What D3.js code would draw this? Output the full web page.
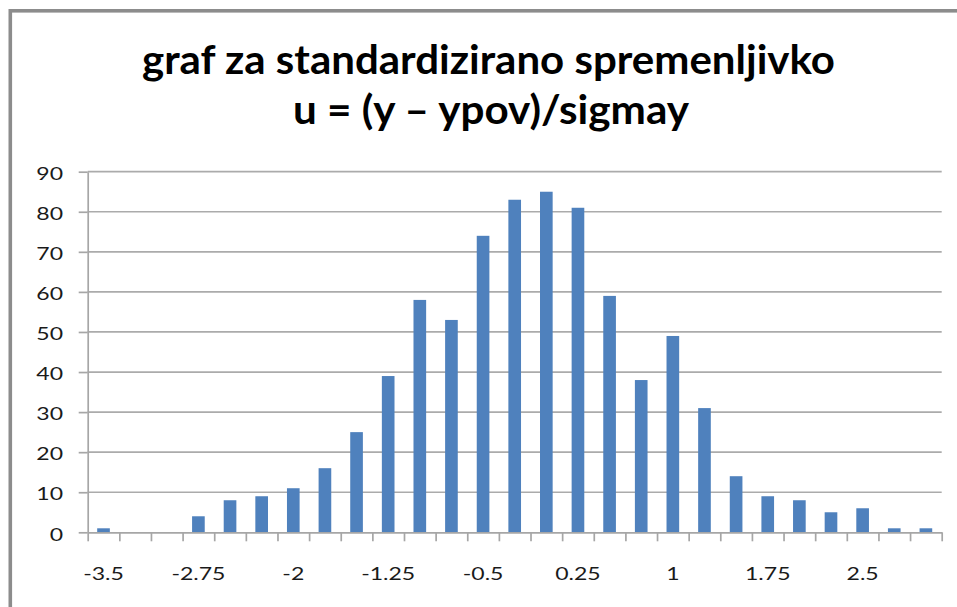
<!DOCTYPE html>
<html><head><meta charset="utf-8">
<script src="https://cdn.jsdelivr.net/npm/d3@7"></script>
<style>body{margin:0;background:#fff} svg{display:block}</style>
</head><body>
<svg id="c" width="957" height="607"></svg>
<script>
const categories = [-3.5,-3.25,-3,-2.75,-2.5,-2.25,-2,-1.75,-1.5,-1.25,-1,-0.75,-0.5,-0.25,0,0.25,0.5,0.75,1,1.25,1.5,1.75,2,2.25,2.5,2.75,3];
const values = [1,0,0,4,8,9,11,16,25,39,58,53,74,83,85,81,59,38,49,31,14,9,8,5,6,1,1];
const xTickLabels = [-3.5,-2.75,-2,-1.25,-0.5,0.25,1,1.75,2.5];
const yTicks = [0,10,20,30,40,50,60,70,80,90];
const titleLines = ["graf za standardizirano spremenljivko", "u = (y – ypov)/sigmay"];

const W = 957, H = 607;
const L = 87.7, R = 941.7, T = 171.7, B = 532.3;
const FONT = "Lato, 'Open Sans', sans-serif";
const LABEL_SIZE = 18, LABEL_SX = 1.28;
const svg = d3.select("#c");

// frame
svg.append("rect").attr("x", 10.3).attr("y", 10.8).attr("width", 1100).attr("height", 800)
  .attr("fill", "none").attr("stroke", "#8c8c8c").attr("stroke-width", 3.6);

// title
const titleY = [74.3, 123.5], titleW = [693, 396], titleX = [488.5, 491];
titleLines.forEach((t, i) => {
  svg.append("text").attr("x", titleX[i]).attr("y", titleY[i])
    .attr("text-anchor", "middle").attr("font-family", FONT).attr("font-weight", "bold")
    .attr("font-size", 41).attr("fill", "#000")
    .attr("textLength", titleW[i]).attr("lengthAdjust", "spacingAndGlyphs")
    .text(t);
});

const x = d3.scaleBand().domain(categories).range([L, R]).paddingInner(0.6).paddingOuter(0.3);
const y = d3.scaleLinear().domain([0, 90]).range([B, T]);
const bnd = d3.scaleLinear().domain([0, categories.length]).range([L, R]);

// gridlines
svg.append("g").selectAll("line").data(yTicks.filter(d => d > 0)).join("line")
  .attr("x1", L).attr("x2", R).attr("y1", d => y(d)).attr("y2", d => y(d))
  .attr("stroke", "#ababab").attr("stroke-width", 1.7);

// bars
svg.append("g").selectAll("rect").data(values).join("rect")
  .attr("x", (d, i) => x(categories[i])).attr("width", x.bandwidth())
  .attr("y", d => y(d)).attr("height", d => y(0) - y(d))
  .attr("fill", "#4f81bd");

// y axis
const gy = svg.append("g").attr("transform", `translate(${L},0)`)
  .call(d3.axisLeft(y).tickValues(yTicks).tickSize(9).tickSizeOuter(0));
gy.select(".domain").attr("stroke", "#a6a6a6").attr("stroke-width", 1.7);
gy.selectAll(".tick line").attr("stroke", "#a6a6a6").attr("stroke-width", 1.7);
gy.selectAll(".tick text").attr("x", 0).attr("dy", "0.43em")
  .attr("transform", `translate(-24.7,0) scale(${LABEL_SX},1)`)
  .attr("font-family", FONT).attr("font-size", LABEL_SIZE).attr("fill", "#1a1a1a");

// x axis boundary ticks
const gb = svg.append("g").attr("transform", `translate(0,${B})`)
  .call(d3.axisBottom(bnd).tickValues(d3.range(categories.length + 1)).tickFormat("").tickSize(9).tickSizeOuter(0));
gb.select(".domain").attr("stroke", "#a6a6a6").attr("stroke-width", 1.7);
gb.selectAll(".tick line").attr("stroke", "#a6a6a6").attr("stroke-width", 1.7);

// x labels
const gx = svg.append("g").attr("transform", `translate(0,${B})`)
  .call(d3.axisBottom(x).tickValues(xTickLabels).tickSize(0).tickFormat(d => String(d)));
gx.select(".domain").remove();
gx.selectAll(".tick text").attr("y", 0).attr("dy", 0)
  .attr("transform", `translate(0,47.4) scale(${LABEL_SX},1)`)
  .attr("font-family", FONT).attr("font-size", LABEL_SIZE).attr("fill", "#1a1a1a");
</script>
</body></html>
